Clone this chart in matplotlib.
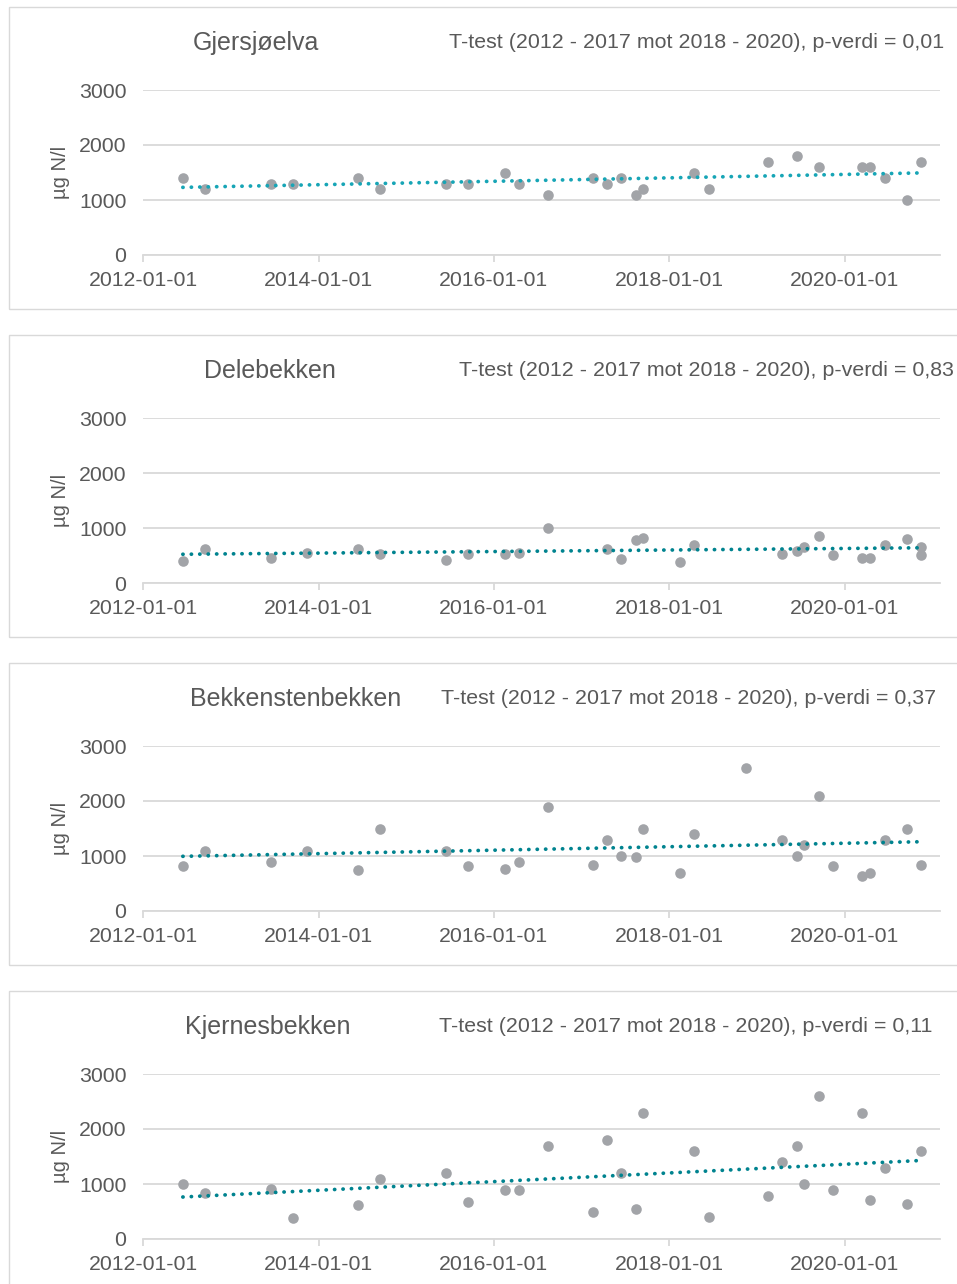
import numpy as np
import matplotlib
matplotlib.use("Agg")
import matplotlib.pyplot as plt
import matplotlib.dates as mdates
from matplotlib.patches import Rectangle

plt.rcParams['font.family'] = ['Liberation Sans', 'DejaVu Sans']

stations = ["Gjersjøelva", "Delebekken", "Bekkenstenbekken", "Kjernesbekken"]
p_values = ["0,01", "0,83", "0,37", "0,11"]

gjersjo_dates = ["2012-06-15", "2012-09-15", "2013-06-15", "2013-09-15", "2014-06-15", "2014-09-15",
                 "2015-06-15", "2015-09-15", "2016-02-15", "2016-04-15", "2016-08-15", "2017-02-15",
                 "2017-04-15", "2017-06-15", "2017-08-15", "2017-09-15", "2018-04-15", "2018-06-15",
                 "2019-02-15", "2019-06-15", "2019-09-15", "2020-03-15", "2020-04-15", "2020-06-15",
                 "2020-09-15", "2020-11-15"]
gjersjo_vals = [1400, 1200, 1300, 1300, 1400, 1200, 1300, 1300, 1500, 1300, 1100, 1400, 1300,
                1400, 1100, 1200, 1500, 1200, 1700, 1800, 1600, 1600, 1600, 1400, 1000, 1700]

dele_dates = ["2012-06-15", "2012-09-15", "2013-06-15", "2013-11-15", "2014-06-15", "2014-09-15",
              "2015-06-15", "2015-09-15", "2016-02-15", "2016-04-15", "2016-08-15", "2017-04-15",
              "2017-06-15", "2017-08-15", "2017-09-15", "2018-02-15", "2018-04-15", "2019-04-15",
              "2019-06-15", "2019-07-15", "2019-09-15", "2019-11-15", "2020-03-15", "2020-04-15",
              "2020-06-15", "2020-09-15", "2020-11-15", "2020-11-15"]
dele_vals = [400, 610, 450, 540, 610, 530, 410, 530, 530, 540, 1000, 620, 440, 790, 820, 380,
             700, 520, 580, 660, 850, 510, 460, 460, 700, 800, 650, 510]

bekk_dates = ["2012-06-15", "2012-09-15", "2013-06-15", "2013-11-15", "2014-06-15", "2014-09-15",
              "2015-06-15", "2015-09-15", "2016-02-15", "2016-04-15", "2016-08-15", "2017-02-15",
              "2017-04-15", "2017-06-15", "2017-08-15", "2017-09-15", "2018-02-15", "2018-04-15",
              "2018-11-15", "2019-04-15", "2019-06-15", "2019-07-15", "2019-09-15", "2019-11-15",
              "2020-03-15", "2020-04-15", "2020-06-15", "2020-09-15", "2020-11-15"]
bekk_vals = [810, 1100, 900, 1100, 750, 1500, 1100, 810, 770, 900, 1900, 840, 1300, 1000, 990,
             1500, 690, 1400, 2600, 1300, 1000, 1200, 2100, 820, 640, 690, 1300, 1500, 840]

kjern_dates = ["2012-06-15", "2012-09-15", "2013-06-15", "2013-09-15", "2014-06-15", "2014-09-15",
               "2015-06-15", "2015-09-15", "2016-02-15", "2016-04-15", "2016-08-15", "2017-02-15",
               "2017-04-15", "2017-06-15", "2017-08-15", "2017-09-15", "2018-04-15", "2018-06-15",
               "2019-02-15", "2019-04-15", "2019-06-15", "2019-07-15", "2019-09-15", "2019-11-15",
               "2020-03-15", "2020-04-15", "2020-06-15", "2020-09-15", "2020-11-15"]
kjern_vals = [1000, 840, 910, 380, 620, 1100, 1200, 680, 900, 900, 1700, 500, 1800, 1200, 540,
              2300, 1600, 400, 780, 1400, 1700, 1000, 2600, 900, 2300, 710, 1300, 640, 1600]

all_dates = [gjersjo_dates, dele_dates, bekk_dates, kjern_dates]
all_vals = [gjersjo_vals, dele_vals, bekk_vals, kjern_vals]
trend_colors = ["#17A5B6", "#00838F", "#00838F", "#00838F"]

title_x = [256, 270, 296, 268]
ttest_x = [449, 459, 441, 439]
panel_tops = [7, 335, 663, 991]
tick_dates = ["2012-01-01", "2014-01-01", "2016-01-01", "2018-01-01", "2020-01-01"]

W, H = 957, 1284
txt = "#595959"
grid = "#D9D9D9"

fig = plt.figure(figsize=(W / 100, H / 100), dpi=100)

for i in range(4):
    t = panel_tops[i]
    fig.patches.append(Rectangle((8.5 / W, 1 - (t + 302) / H), 1.0, 302 / H,
                                 transform=fig.transFigure, fill=False,
                                 edgecolor=grid, linewidth=1.0))

    ax = fig.add_axes([143 / W, 1 - (t + 248) / H, (940 - 143) / W, 165 / H])
    d = np.array(all_dates[i], dtype="datetime64[D]")
    v = np.array(all_vals[i], dtype=float)

    x = mdates.date2num(d)
    k, m = np.polyfit(x, v, 1)
    xt = np.array([x.min(), x.max()])
    ax.plot(mdates.num2date(xt), k * xt + m, color=trend_colors[i], linewidth=2.7,
            linestyle=(0, (0.05, 2.2)), dash_capstyle="round", zorder=3)
    ax.scatter(d, v, s=58, color="#A2A4A8", linewidths=0, zorder=2, clip_on=False)

    ax.set_ylim(0, 3000)
    ax.set_yticks([0, 1000, 2000, 3000])
    ax.set_xlim(np.datetime64("2012-01-01"), np.datetime64("2021-02-01"))
    ax.set_xticks(np.array(tick_dates, dtype="datetime64[D]"))
    ax.xaxis.set_major_formatter(mdates.DateFormatter("%Y-%m-%d"))
    ax.grid(axis="y", color=grid, linewidth=1.3)
    ax.set_axisbelow(True)
    for s in ["top", "right", "left"]:
        ax.spines[s].set_visible(False)
    ax.spines["bottom"].set_color(grid)
    ax.spines["bottom"].set_linewidth(1.3)
    ax.tick_params(axis="y", length=0, pad=12, labelsize=15.3, labelcolor=txt)
    ax.tick_params(axis="x", length=5, width=1.3, color=grid, pad=6.5, labelsize=15.3, labelcolor=txt)

    fig.text(title_x[i] / W, 1 - (t + 36) / H, stations[i], ha="center", va="center",
             fontsize=18, color=txt)
    fig.text(ttest_x[i] / W, 1 - (t + 36) / H,
             "T-test (2012 - 2017 mot 2018 - 2020), p-verdi = " + p_values[i],
             ha="left", va="center", fontsize=15.4, color=txt)
    fig.text(61 / W, 1 - (t + 165) / H, "µg N/l", rotation=90, ha="center", va="center",
             fontsize=14.5, color=txt)

fig.savefig("out.png", dpi=100)
